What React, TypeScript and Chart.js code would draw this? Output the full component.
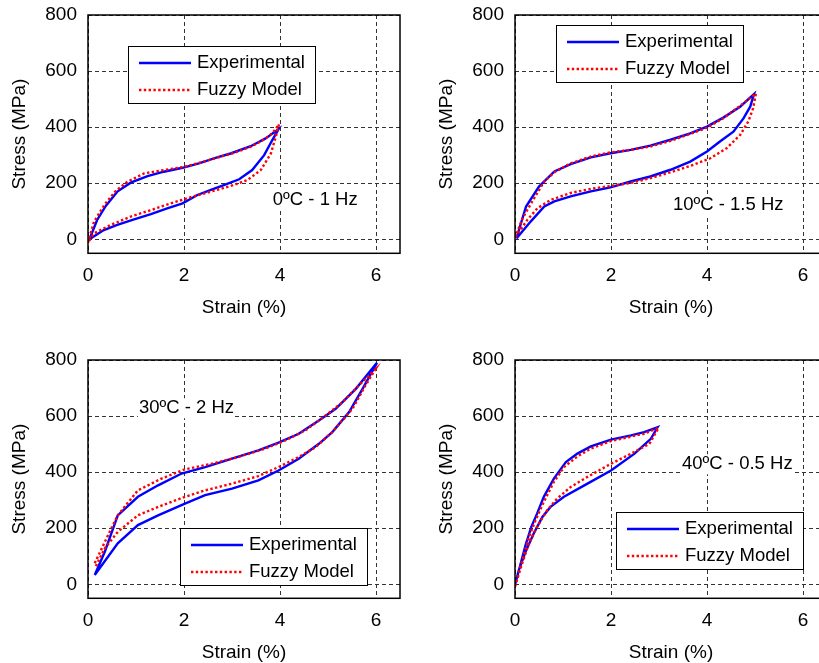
import React, { useEffect, useRef } from "react";
import { Chart, registerables } from "chart.js";

Chart.register(...registerables);

type Pt = [number, number];

// ---- axis ticks & labels ----
const strainTicks = [0, 2, 4, 6];
const stressTicks = [0, 200, 400, 600, 800];
const seriesNames = ["Experimental", "Fuzzy Model"];
const xTitle = "Strain (%)";
const yTitle = "Stress (MPa)";

// ---- 0ºC - 1 Hz ----
const exp0C: Pt[] = [
  [0.03, 0], [0.19, 69], [0.37, 119], [0.61, 170], [0.89, 202], [1.24, 225], [1.58, 241], [1.97, 255],
  [2.31, 271], [2.69, 292], [2.97, 306], [3.39, 332], [3.7, 360], [3.97, 393],
  [3.84, 354], [3.67, 300], [3.42, 247], [3.15, 214], [2.83, 193], [2.56, 176], [2.28, 158], [1.97, 128],
  [1.65, 110], [1.31, 90], [0.96, 71], [0.61, 51], [0.33, 33], [0.03, 0],
];
const fuz0C: Pt[] = [
  [0, -12], [0.125, 63], [0.35, 125], [0.58, 173], [0.82, 205], [1.17, 235], [1.58, 247], [2.0, 258],
  [2.35, 274], [2.69, 291], [3.04, 308], [3.39, 330], [3.67, 356], [3.85, 380], [3.98, 410],
  [3.91, 365], [3.81, 306], [3.6, 247], [3.32, 211], [2.97, 190], [2.56, 170], [2.14, 150], [1.72, 128],
  [1.31, 104], [0.89, 81], [0.47, 51], [0.125, 21], [0, -12],
];

// ---- 10ºC - 1.5 Hz ----
const exp10C: Pt[] = [
  [0.03, 3], [0.23, 117], [0.5, 188], [0.82, 242], [1.16, 268], [1.58, 292], [1.99, 307], [2.41, 319],
  [2.82, 334], [3.24, 355], [3.65, 378], [4.0, 402], [4.34, 434], [4.69, 473], [4.98, 518],
  [4.9, 473], [4.76, 431], [4.55, 384], [4.27, 349], [4.0, 313], [3.65, 277], [3.24, 248], [2.82, 224],
  [2.41, 206], [1.99, 185], [1.58, 171], [1.16, 153], [0.82, 135], [0.61, 117], [0.33, 64], [0.03, 3],
];
const fuz10C: Pt[] = [
  [0, 5], [0.16, 76], [0.4, 147], [0.61, 206], [0.82, 239], [1.16, 271], [1.58, 295], [1.99, 310],
  [2.41, 319], [2.82, 331], [3.24, 351], [3.65, 376], [4.0, 398], [4.34, 432], [4.69, 476], [5.02, 520],
  [4.96, 467], [4.86, 420], [4.69, 372], [4.41, 325], [4.07, 289], [3.72, 266], [3.3, 242], [2.82, 218],
  [2.41, 201], [1.99, 190], [1.58, 180], [1.16, 165], [0.75, 141], [0.47, 111], [0.26, 70], [0, 5],
];

// ---- 30ºC - 2 Hz ----
const exp30C: Pt[] = [
  [0.14, 33], [0.35, 116], [0.62, 246], [1.04, 312], [1.46, 353], [1.95, 395], [2.44, 418], [3.0, 448],
  [3.55, 478], [3.97, 505], [4.39, 537], [4.81, 584], [5.16, 626], [5.58, 697], [6.02, 790],
  [5.72, 697], [5.44, 614], [5.09, 543], [4.81, 501], [4.39, 448], [3.97, 406], [3.55, 371], [3.0, 341],
  [2.44, 318], [2.02, 288], [1.46, 246], [1.04, 211], [0.62, 146], [0.14, 33],
];
const fuz30C: Pt[] = [
  [0.14, 75], [0.35, 151], [0.62, 246], [1.04, 335], [1.53, 377], [2.02, 410], [2.58, 430], [3.13, 454],
  [3.69, 484], [4.11, 513], [4.53, 549], [4.95, 602], [5.3, 649], [5.64, 709], [5.98, 765],
  [5.78, 709], [5.51, 626], [5.09, 543], [4.74, 489], [4.39, 454], [3.97, 418], [3.55, 386], [3.0, 359],
  [2.44, 335], [2.02, 312], [1.46, 276], [1.04, 246], [0.62, 187], [0.35, 128], [0.14, 57],
];

// ---- 40ºC - 0.5 Hz ----
const exp40C: Pt[] = [
  [0, -2], [0.12, 75], [0.22, 140], [0.34, 205], [0.46, 252], [0.6, 312], [0.81, 377], [1.06, 436],
  [1.3, 466], [1.58, 492], [2.0, 516], [2.42, 531], [2.69, 543], [2.97, 560],
  [2.83, 519], [2.49, 466], [2.0, 406], [1.51, 359], [1.02, 312], [0.74, 276], [0.57, 240], [0.39, 181],
  [0.22, 116], [0.08, 51], [0, -2],
];
const fuz40C: Pt[] = [
  [0, -8], [0.15, 86], [0.29, 169], [0.43, 229], [0.6, 294], [0.81, 365], [1.02, 418], [1.3, 456],
  [1.58, 484], [2.0, 511], [2.42, 527], [2.69, 537], [2.99, 558],
  [2.8, 501], [2.42, 466], [2.0, 430], [1.51, 383], [1.16, 347], [0.88, 306], [0.67, 264], [0.46, 205],
  [0.29, 146], [0.15, 75], [0, -8],
];

const caseLabels = ["0ºC - 1 Hz", "10ºC - 1.5 Hz", "30ºC - 2 Hz", "40ºC - 0.5 Hz"];

const FONT = "'Liberation Sans', Arial, Helvetica, sans-serif";

interface PanelCfg {
  exp: Pt[];
  fuz: Pt[];
  label: string;
  labelAt: Pt; // data coords of label's left-middle
  left: number;
  top: number;
  legend: [number, number]; // legend box top-left in canvas px
}

const panels: PanelCfg[] = [
  { exp: exp0C, fuz: fuz0C, label: caseLabels[0], labelAt: [3.85, 140], left: 0, top: 0, legend: [128, 46] },
  { exp: exp10C, fuz: fuz10C, label: caseLabels[1], labelAt: [3.29, 122], left: 427, top: 0, legend: [129, 25] },
  { exp: exp30C, fuz: fuz30C, label: caseLabels[2], labelAt: [1.06, 628], left: 0, top: 345, legend: [180, 183] },
  { exp: exp40C, fuz: fuz40C, label: caseLabels[3], labelAt: [3.48, 428], left: 427, top: 345, legend: [189, 167] },
];

const decorPlugin = {
  id: "decor",
  afterDatasetsDraw(chart: any, _args: any, opts: any) {
    const { ctx, chartArea: ca, scales } = chart;
    ctx.save();
    // annotation with white background
    ctx.font = `18.5px ${FONT}`;
    ctx.textAlign = "left";
    ctx.textBaseline = "middle";
    const tx = scales.x.getPixelForValue(opts.labelAt[0]);
    const ty = scales.y.getPixelForValue(opts.labelAt[1]);
    const tw = ctx.measureText(opts.label).width;
    ctx.fillStyle = "#fff";
    ctx.fillRect(tx - 1, ty - 10, tw + 2, 20);
    ctx.fillStyle = "#000";
    ctx.fillText(opts.label, tx, ty);

    // axes box
    ctx.setLineDash([]);
    ctx.strokeStyle = "#000";
    ctx.lineWidth = 1.5;
    ctx.strokeRect(ca.left, ca.top, ca.right - ca.left, ca.bottom - ca.top);

    // legend
    const [lx, ly] = opts.legend;
    const w = 187, h = 57;
    ctx.fillStyle = "#fff";
    ctx.fillRect(lx, ly, w, h);
    ctx.lineWidth = 1;
    ctx.strokeStyle = "#000";
    ctx.strokeRect(Math.round(lx) + 0.5, Math.round(ly) + 0.5, w, h);
    chart.data.datasets.forEach((ds: any, i: number) => {
      const y = ly + 17 + i * 27;
      ctx.strokeStyle = ds.borderColor;
      ctx.lineWidth = ds.borderWidth;
      ctx.setLineDash(ds.borderDash || []);
      ctx.beginPath();
      ctx.moveTo(lx + 11, y);
      ctx.lineTo(lx + 63, y);
      ctx.stroke();
      ctx.setLineDash([]);
      ctx.fillStyle = "#000";
      ctx.fillText(ds.label, lx + 69, y);
    });
    ctx.restore();
  },
};

function Panel({ cfg }: { cfg: PanelCfg }) {
  const ref = useRef<HTMLCanvasElement | null>(null);
  useEffect(() => {
    if (!ref.current) return;
    const toXY = (pts: Pt[]) => pts.map(([x, y]) => ({ x, y }));
    const tickFont = { family: FONT, size: 19 };
    const chart = new Chart(ref.current, {
      type: "scatter",
      data: {
        datasets: [
          {
            label: seriesNames[0],
            data: toXY(cfg.exp),
            showLine: true,
            borderColor: "#0000ff",
            backgroundColor: "#0000ff",
            borderWidth: 2.4,
            pointRadius: 0,
            tension: 0,
            order: 1,
          },
          {
            label: seriesNames[1],
            data: toXY(cfg.fuz),
            showLine: true,
            borderColor: "#ff0000",
            backgroundColor: "#ff0000",
            borderWidth: 2.4,
            borderDash: [2.4, 2.4],
            pointRadius: 0,
            tension: 0,
            order: 0,
          },
        ],
      },
      options: {
        animation: false,
        responsive: false,
        devicePixelRatio: 1,
        layout: { padding: { left: 0, top: 15, right: 10, bottom: 0 } },
        plugins: {
          legend: { display: false },
          tooltip: { enabled: false },
          decor: { label: cfg.label, labelAt: cfg.labelAt, legend: cfg.legend },
        } as any,
        scales: {
          x: {
            type: "linear",
            min: 0,
            max: 6.5,
            afterBuildTicks: (s: any) => {
              s.ticks = strainTicks.map((v) => ({ value: v }));
            },
            afterFit: (s: any) => {
              s.height = 76.7;
              s.paddingLeft = 0;
              s.paddingRight = 0;
            },
            grid: { color: "#333", lineWidth: 1, drawTicks: false },
            border: { display: false, dash: [4, 3] },
            ticks: { color: "#000", font: tickFont, padding: 11, maxRotation: 0, autoSkip: false },
            title: {
              display: true,
              text: xTitle,
              color: "#000",
              font: tickFont,
              padding: { top: 0, bottom: 10.5 },
            },
          },
          y: {
            type: "linear",
            min: -50,
            max: 800,
            afterBuildTicks: (s: any) => {
              s.ticks = stressTicks.map((v) => ({ value: v }));
            },
            afterFit: (s: any) => {
              s.width = 88;
              s.paddingTop = 0;
              s.paddingBottom = 0;
            },
            grid: { color: "#333", lineWidth: 1, drawTicks: false },
            border: { display: false, dash: [4, 3] },
            ticks: { color: "#000", font: tickFont, padding: 11, autoSkip: false },
            title: {
              display: true,
              text: yTitle,
              color: "#000",
              font: tickFont,
              padding: { top: 8, bottom: 0 },
            },
          },
        },
      } as any,
      plugins: [decorPlugin],
    });
    return () => chart.destroy();
  }, [cfg]);
  return (
    <canvas
      ref={ref}
      width={410}
      height={330}
      style={{ position: "absolute", left: cfg.left, top: cfg.top, width: 410, height: 330 }}
    />
  );
}

export default function App() {
  return (
    <div
      style={{
        position: "fixed",
        left: 0,
        top: 0,
        width: 819,
        height: 663,
        overflow: "hidden",
        background: "#fff",
      }}
    >
      {panels.map((p, i) => (
        <Panel key={i} cfg={p} />
      ))}
    </div>
  );
}
